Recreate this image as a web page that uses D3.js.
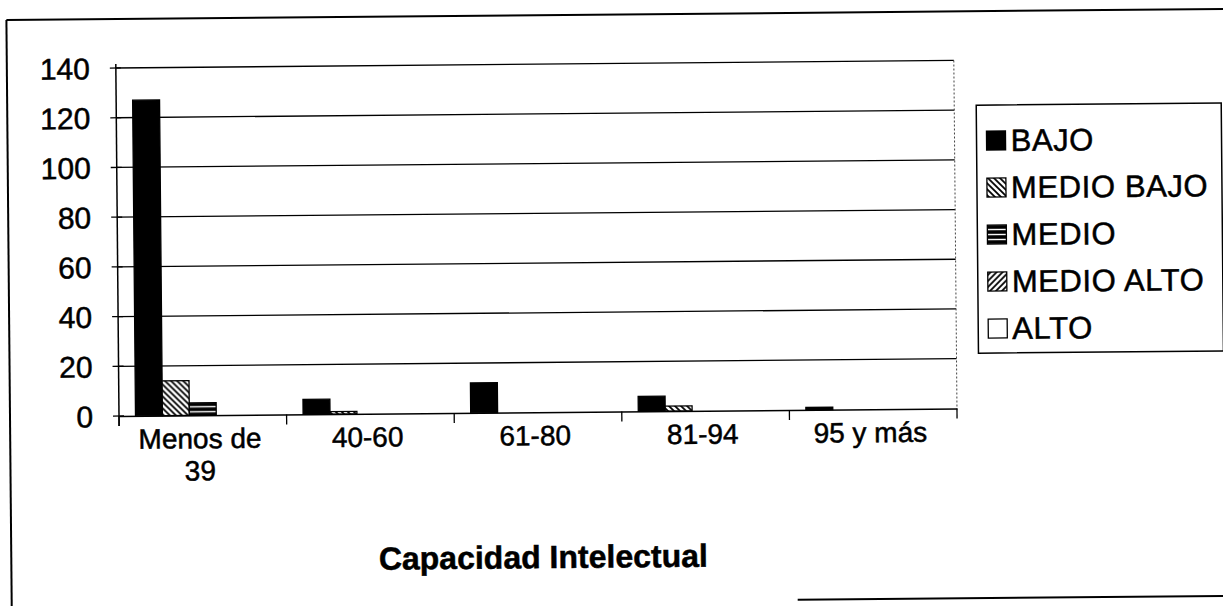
<!DOCTYPE html>
<html>
<head>
<meta charset="utf-8">
<script src="https://cdn.jsdelivr.net/npm/d3@7"></script>
<style>
  html, body { margin: 0; padding: 0; background: #fff; }
  svg { display: block; }
  text { font-family: "Liberation Sans", Arial, sans-serif; fill: #000; stroke: #000; stroke-width: 0.5px; }
</style>
</head>
<body>
<svg id="chart" width="1223" height="606"></svg>
<script>
// Category labels along the x axis
const categories = ["Menos de 39", "40-60", "61-80", "81-94", "95 y más"];

// One array of counts per level
const seriesNames = ["BAJO", "MEDIO BAJO", "MEDIO", "MEDIO ALTO", "ALTO"];
const bajo      = [127, 6, 12, 6, 1];
const medioBajo = [14, 1, 0, 2, 0];
const medio     = [5, 0, 0, 0, 0];
const medioAlto = [0, 0, 0, 0, 0];
const alto      = [0, 0, 0, 0, 0];

// Y axis ticks
const yTicks = [0, 20, 40, 60, 80, 100, 120, 140];

const axisTitle = "Capacidad Intelectual";

const seriesValues = [bajo, medioBajo, medio, medioAlto, alto];
const fills = ["#000", "url(#pMedioBajo)", "url(#pMedio)", "url(#pMedioAlto)", "#fff"];

const svg = d3.select("#chart");

// Hatch patterns
const defs = svg.append("defs");
function hatch(id, w, h, bg, fg, d, sw) {
  const p = defs.append("pattern").attr("id", id)
    .attr("patternUnits", "userSpaceOnUse").attr("width", w).attr("height", h);
  p.append("rect").attr("width", w).attr("height", h).attr("fill", bg);
  p.append("path").attr("d", d).attr("stroke", fg).attr("stroke-width", sw).attr("fill", "none");
}
hatch("pMedioBajo", 6, 6, "#fff", "#000", "M0,0 L6,6 M-1,5 L1,7 M5,-1 L7,1", 1.8);
hatch("pMedioAlto", 6, 6, "#fff", "#000", "M0,6 L6,0 M-1,1 L1,-1 M5,7 L7,5", 1.8);
hatch("pMedio", 5, 5, "#000", "#fff", "M0,2.5 L5,2.5", 1.4);

// The whole sheet sits at a slight tilt
const g = svg.append("g").attr("transform", "rotate(-0.52,119,416)");

// Outer chart frame
g.append("line").attr("x1", 10).attr("y1", 19).attr("x2", 1240).attr("y2", 19)
  .attr("stroke", "#000").attr("stroke-width", 2);
g.append("line").attr("x1", 10).attr("y1", 19).attr("x2", 10).attr("y2", 620)
  .attr("stroke", "#000").attr("stroke-width", 2);
g.append("line").attr("x1", 796).attr("y1", 606).attr("x2", 1240).attr("y2", 606)
  .attr("stroke", "#000").attr("stroke-width", 2);

// Scales
const plotLeft = 119, plotRight = 957, plotTop = 68, plotBottom = 416;
const x0 = d3.scaleBand().domain(categories).range([plotLeft, plotRight]).padding(0);
const groupPad = 16.5;
const x1 = d3.scaleBand().domain(seriesNames)
  .range([groupPad, x0.bandwidth() - groupPad]).padding(0);
const y = d3.scaleLinear().domain([0, 140]).range([plotBottom, plotTop]);

// Gridlines
g.append("g").selectAll("line").data(yTicks.filter(t => t > 0)).join("line")
  .attr("x1", plotLeft).attr("x2", plotRight)
  .attr("y1", d => y(d)).attr("y2", d => y(d))
  .attr("stroke", "#000").attr("stroke-width", 1.3);

// Right edge of plot area
g.append("line").attr("x1", plotRight).attr("x2", plotRight)
  .attr("y1", plotTop).attr("y2", plotBottom)
  .attr("stroke", "#444").attr("stroke-width", 1).attr("stroke-dasharray", "2,2");

// Bars
seriesNames.forEach((name, si) => {
  g.append("g").selectAll("rect")
    .data(seriesValues[si].map((v, ci) => ({ cat: categories[ci], v })).filter(d => d.v > 0))
    .join("rect")
    .attr("x", d => x0(d.cat) + x1(name))
    .attr("width", x1.bandwidth())
    .attr("y", d => y(d.v))
    .attr("height", d => y(0) - y(d.v))
    .attr("fill", fills[si])
    .attr("stroke", "#000").attr("stroke-width", 1.3);
});

// Y axis
const yAxis = d3.axisLeft(y).tickValues(yTicks).tickSize(0).tickPadding(26);
const yg = g.append("g").attr("transform", `translate(${plotLeft},0)`).call(yAxis);
yg.select(".domain").remove();
yg.selectAll("text").style("font-size", "30px").attr("dy", "0.35em");
g.append("line").attr("x1", plotLeft).attr("x2", plotLeft)
  .attr("y1", plotTop - 4).attr("y2", plotBottom + 10)
  .attr("stroke", "#000").attr("stroke-width", 1.5);
g.append("g").selectAll("line").data(yTicks).join("line")
  .attr("x1", plotLeft - 6).attr("x2", plotLeft + 5)
  .attr("y1", d => y(d)).attr("y2", d => y(d))
  .attr("stroke", "#000").attr("stroke-width", 1.3);

// X axis
const xAxis = d3.axisBottom(x0).tickSize(0).tickPadding(0);
const xg = g.append("g").attr("transform", `translate(0,${plotBottom})`).call(xAxis);
xg.select(".domain").attr("stroke", "#000").attr("stroke-width", 1.5);
xg.selectAll("text").remove();
xg.selectAll(".tick").each(function (d) {
  const t = d3.select(this).append("text")
    .attr("text-anchor", "middle").style("font-size", "28px");
  // wrap long labels onto two lines
  const lines = d.length > 8 ? [d.slice(0, d.lastIndexOf(" ")), d.slice(d.lastIndexOf(" ") + 1)] : [d];
  lines.forEach((ln, i) => t.append("tspan").attr("x", -3).attr("y", 33 + i * 32).text(ln));
});
// Boundary ticks between categories
const bounds = categories.map(c => x0(c)).concat([plotRight]);
g.append("g").selectAll("line").data(bounds).join("line")
  .attr("x1", d => d).attr("x2", d => d)
  .attr("y1", plotBottom).attr("y2", plotBottom + 10)
  .attr("stroke", "#000").attr("stroke-width", 1.3);

// Axis title
g.append("text").attr("x", 542).attr("y", 572)
  .attr("text-anchor", "middle").style("font-size", "32px").style("font-weight", "bold")
  .text(axisTitle);

// Legend
const lgX = 979, lgY = 113, lgW = 245, lgH = 248;
const legend = g.append("g");
legend.append("rect").attr("x", lgX).attr("y", lgY).attr("width", lgW).attr("height", lgH)
  .attr("fill", "#fff").attr("stroke", "#000").attr("stroke-width", 1.5);
const rowY = d3.scalePoint().domain(seriesNames).range([148, 336]);
seriesNames.forEach((name, si) => {
  const cy = rowY(name);
  legend.append("rect").attr("x", lgX + 10).attr("y", cy - 9).attr("width", 19).attr("height", 19)
    .attr("fill", fills[si]).attr("stroke", "#000").attr("stroke-width", 1.3);
  legend.append("text").attr("x", lgX + 34).attr("y", cy).attr("dy", "0.36em")
    .style("font-size", "31px").style("letter-spacing", "0.6px").text(name);
});
</script>
</body>
</html>
